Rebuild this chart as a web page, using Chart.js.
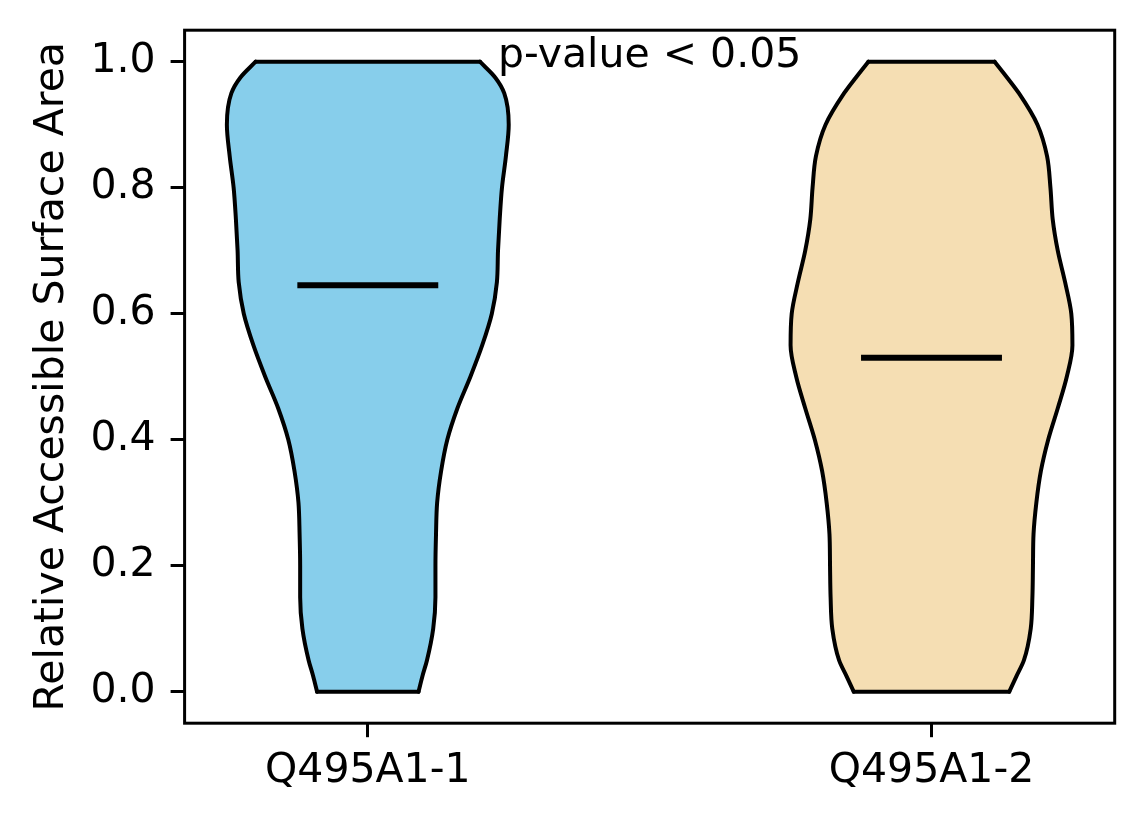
<!DOCTYPE html>
<html>
<head>
<meta charset="utf-8">
<script src="https://cdn.jsdelivr.net/npm/chart.js@4.4.1/dist/chart.umd.min.js"></script>
<style>
    html, body { margin: 0; padding: 0; background: #fff; }
    #wrap { width: 1144px; height: 824px; }
</style>
</head>
<body>
<div id="wrap"><canvas id="violin" width="1144" height="824"></canvas></div>
<script>
// datos
const categories = ["Q495A1-1", "Q495A1-2"];
const positions = [1, 2];
const medians = [0.645, 0.53];
const yTicks = [0, 0.2, 0.4, 0.6, 0.8, 1.0];

// perfil de cada violin: semiancho (unidades del eje x) en cada nivel de y
const levels = [0, 0.025, 0.05, 0.1, 0.15, 0.2, 0.25, 0.3, 0.35, 0.4, 0.45, 0.5,
                0.55, 0.6, 0.65, 0.7, 0.75, 0.8, 0.85, 0.9, 0.95, 0.975, 1.0];
const halfWidthA = [0.090, 0.097, 0.105, 0.116, 0.120, 0.120, 0.121, 0.123, 0.130, 0.141, 0.159, 0.182,
                    0.203, 0.220, 0.229, 0.231, 0.234, 0.238, 0.245, 0.250, 0.242, 0.226, 0.199];
const halfWidthB = [0.138, 0.151, 0.164, 0.176, 0.179, 0.180, 0.181, 0.186, 0.194, 0.207, 0.224, 0.240,
                    0.250, 0.248, 0.237, 0.224, 0.215, 0.211, 0.205, 0.188, 0.155, 0.134, 0.112];

const fillColors = ["#87CEEB", "#F5DEB3"];
const pLabel = "p-value < 0.05";
const pLabelPos = { x: 1.5, y: 0.992 };

const FONT = "DejaVu Sans";
const profiles = [halfWidthA, halfWidthB];
const last = levels.length - 1;

// bordes del violin (de abajo hacia arriba), el relleno va entre el izq. y el der.
function edge(pos, hw, side) {
    return levels.map((y, i) => ({ x: pos + side * hw[i], y: y }));
}

function flat(pos, hw, i) {
    return [{ x: pos - hw[i], y: levels[i] }, { x: pos + hw[i], y: levels[i] }];
}

const stroke = {
    borderColor: "#000",
    pointRadius: 0,
    borderCapStyle: "round",
    fill: false,
};

const datasets = [];
// 0,1 medianas (order 0 -> encima de todo)
positions.forEach((pos, i) => {
    datasets.push({
        ...stroke,
        label: "median " + categories[i],
        data: [{ x: pos - 0.125, y: medians[i] }, { x: pos + 0.125, y: medians[i] }],
        borderWidth: 6,
        borderCapStyle: "butt",
        tension: 0,
        order: 0,
    });
});
// 2,3 borde izquierdo
positions.forEach((pos, i) => {
    datasets.push({
        ...stroke,
        label: categories[i] + " left",
        data: edge(pos, profiles[i], -1),
        borderWidth: 4,
        cubicInterpolationMode: "monotone",
        order: 2,
    });
});
// 4,5 borde derecho con relleno hasta el izquierdo (se dibuja primero)
positions.forEach((pos, i) => {
    datasets.push({
        ...stroke,
        label: categories[i],
        data: edge(pos, profiles[i], 1),
        borderWidth: 4,
        backgroundColor: fillColors[i],
        cubicInterpolationMode: "monotone",
        fill: 2 + i,
        order: 3,
    });
});
// tapas superior e inferior
positions.forEach((pos, i) => {
    [0, last].forEach((k) => {
        datasets.push({
            ...stroke,
            label: categories[i] + " cap",
            data: flat(pos, profiles[i], k),
            borderWidth: 4,
            tension: 0,
            order: 2,
        });
    });
});

const framePlugin = {
    id: "frame",
    afterDraw(chart) {
        const { ctx, chartArea: a, scales } = chart;
        ctx.save();
        ctx.strokeStyle = "#000";
        ctx.lineWidth = 3;
        ctx.strokeRect(a.left, a.top, a.right - a.left, a.bottom - a.top);
        ctx.fillStyle = "#000";
        ctx.font = "41px '" + FONT + "'";
        ctx.textAlign = "center";
        ctx.textBaseline = "alphabetic";
        ctx.fillText(pLabel, scales.x.getPixelForValue(pLabelPos.x), scales.y.getPixelForValue(pLabelPos.y));
        ctx.restore();
    },
};

new Chart(document.getElementById("violin"), {
    type: "line",
    data: { datasets: datasets },
    options: {
        indexAxis: "y",
        responsive: false,
        animation: false,
        devicePixelRatio: 1,
        layout: { padding: { top: 30.2, right: 29.3, bottom: 0, left: 0 } },
        plugins: {
            legend: { display: false },
            tooltip: { enabled: false },
        },
        scales: {
            x: {
                type: "linear",
                position: "bottom",
                min: 0.675,
                max: 2.325,
                afterBuildTicks: (s) => { s.ticks = positions.map((v) => ({ value: v })); },
                afterFit: (s) => { s.height = 100.8; s.paddingLeft = 0; s.paddingRight = 0; },
                ticks: {
                    callback: (v) => categories[positions.indexOf(v)],
                    color: "#000",
                    font: { family: FONT, size: 41 },
                    padding: 10,
                    maxRotation: 0,
                    autoSkip: false,
                },
                grid: { drawOnChartArea: false, tickLength: 14, tickWidth: 3, tickColor: "#000" },
                border: { display: false },
            },
            y: {
                type: "linear",
                position: "left",
                min: -0.05,
                max: 1.05,
                afterBuildTicks: (s) => { s.ticks = yTicks.map((v) => ({ value: v })); },
                afterFit: (s) => { s.width = 184.6; s.paddingTop = 0; s.paddingBottom = 0; },
                ticks: {
                    callback: (v) => v.toFixed(1),
                    color: "#000",
                    font: { family: FONT, size: 41 },
                    padding: 15,
                },
                grid: { drawOnChartArea: false, tickLength: 14, tickWidth: 3, tickColor: "#000" },
                border: { display: false },
                title: {
                    display: true,
                    text: "Relative Accessible Surface Area",
                    color: "#000",
                    font: { family: FONT, size: 41, lineHeight: 1.2 },
                    padding: { top: 28, bottom: 0 },
                },
            },
        },
    },
    plugins: [framePlugin],
});
</script>
</body>
</html>
